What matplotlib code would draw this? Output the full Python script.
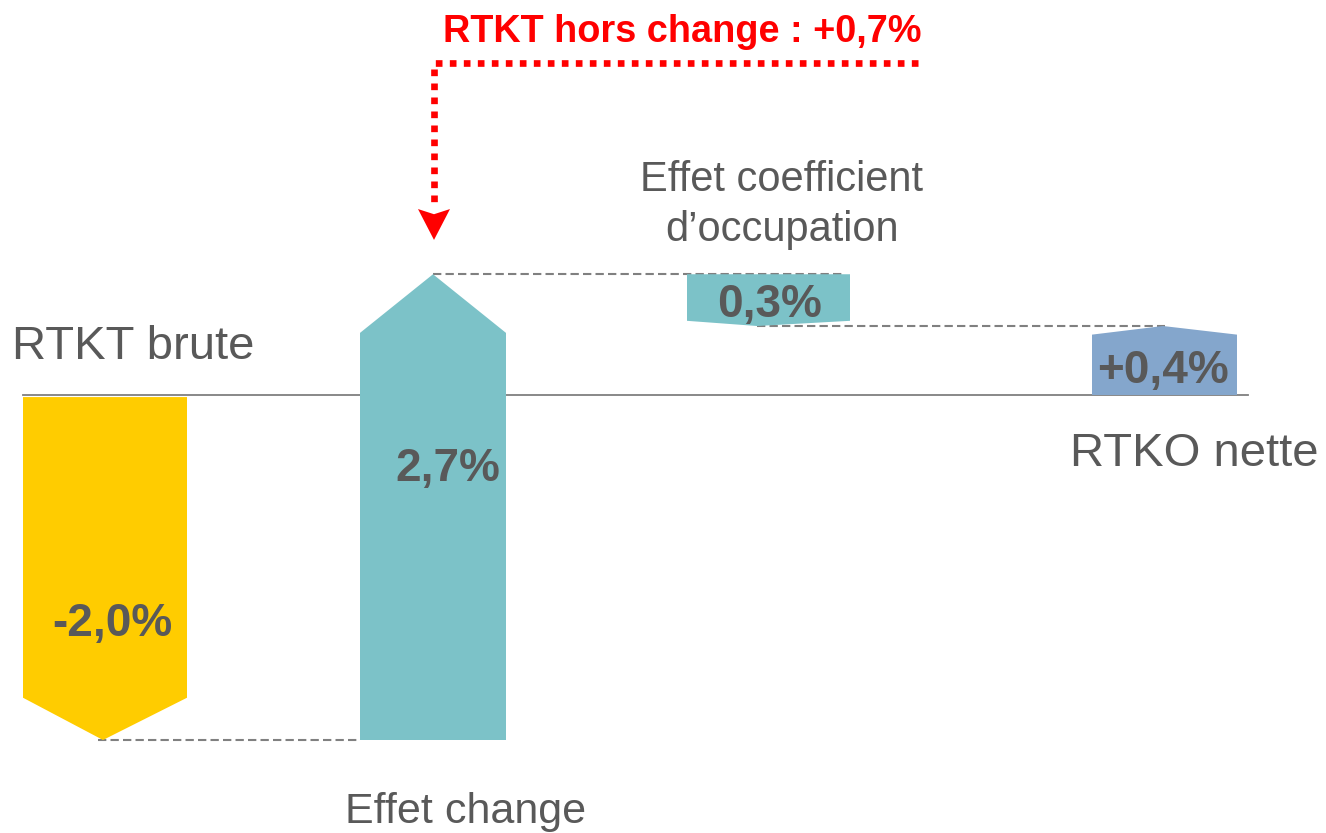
import matplotlib
matplotlib.use("Agg")
import matplotlib.pyplot as plt
from matplotlib.patches import Polygon

plt.rcParams['font.family'] = ['Liberation Sans', 'DejaVu Sans']

# ---- data ----
categories = ["RTKT brute", "Effet change", "Effet coefficient\nd\u2019occupation", "RTKO nette"]
values = [-2.0, 2.7, -0.3, 0.4]
value_labels = ["-2,0%", "2,7%", "0,3%", "+0,4%"]
is_total = [False, False, False, True]
annotation = "RTKT hors change : +0,7%"

colors = ["#FFCC00", "#7CC2C8", "#7CC2C8", "#84A6CC"]
grey_txt = "#595959"

# ---- layout (pixel-like x units, % y units) ----
W, H = 1326, 833
base_px = 395
px_per_pct = 172.5
bar_left = [23, 360, 687, 1092]
bar_right = [187, 506, 850, 1237]
tip_x = [103, 433, 757, 1163]
chevron = [0.245, 0.34, 0.03, 0.05]
dy = 0.023  # small text offset

fig = plt.figure(figsize=(W / 100, H / 100), dpi=100)
ax = fig.add_axes([0, 0, 1, 1])
ax.set_xlim(0, W)
ax.set_ylim(-(H - base_px) / px_per_pct, base_px / px_per_pct)
ax.axis('off')

# waterfall cumulative
starts, ends = [], []
cum = 0.0
for v, tot in zip(values, is_total):
    if tot:
        s, e = 0.0, cum
    else:
        s, e = cum, cum + v
        cum = e
    starts.append(s)
    ends.append(e)

# baseline
ax.plot([23, 1248], [0, 0], color="#7F7F7F", lw=1.3, zorder=1)

for i in range(len(values)):
    s, e = starts[i], ends[i]
    L, R, T = bar_left[i], bar_right[i], tip_x[i]
    c = chevron[i]
    if e < s:  # downward arrow
        top = s - (0.012 if i == 0 else 0.0)
        pts = [(L, top), (R, top), (R, e + c), (T, e), (L, e + c)]
    else:  # upward arrow
        pts = [(L, s), (R, s), (R, e - c), (T, e), (L, e - c)]
    ax.add_patch(Polygon(pts, closed=True, facecolor=colors[i], edgecolor='none', zorder=2))

# connector dashed lines
dash_kw = dict(color="#808080", lw=1.5, linestyle=(0, (4, 2)), zorder=1)
ax.plot([tip_x[0] - 5, bar_left[1]], [ends[0], ends[0]], **dash_kw)
ax.plot([tip_x[1], bar_right[2] - 5], [ends[1], ends[1]], **dash_kw)
ax.plot([tip_x[2], 1165], [ends[2], ends[2]], **dash_kw)

# value labels
val_pos = [(112, -1.304), (448, -0.406), (770, 0.545), (1163, 0.162)]
for (x, y), lab in zip(val_pos, value_labels):
    ax.text(x, y - dy, lab, ha='center', va='center', fontsize=33, fontweight='bold',
            color=grey_txt, zorder=3)

# category labels
ax.text(12, 0.301 - dy, categories[0], ha='left', va='center', fontsize=34, color=grey_txt)
ax.text(466, -2.394 - dy, categories[1], ha='center', va='center', fontsize=31, color=grey_txt)
ax.text(782, 1.100, categories[2], ha='center', va='center', fontsize=30, color=grey_txt,
        linespacing=1.33)
ax.text(1194, -0.319 - dy, categories[3], ha='center', va='center', fontsize=34, color=grey_txt)

# red annotation
red = "#FF0000"
y_line = (base_px - 63) / px_per_pct
x_arrow = tip_x[1] + 1
y_head_top = ends[1] + 0.378
y_tip = ends[1] + 0.199
ax.plot([918, x_arrow, x_arrow], [y_line, y_line, y_head_top + 0.02],
        color=red, lw=4.8, linestyle=(0, (1, 1.1)), solid_capstyle='butt',
        dash_capstyle='butt', zorder=3)
ax.add_patch(Polygon([(x_arrow - 16, y_head_top), (x_arrow, y_head_top - 0.03),
                      (x_arrow + 16, y_head_top), (x_arrow, y_tip)],
                     closed=True, facecolor=red, edgecolor='none', zorder=3))
ax.text(682, (base_px - 32) / px_per_pct, annotation, ha='center', va='center',
        fontsize=27.3, fontweight='bold', color=red)

fig.savefig("out.png", dpi=100)
